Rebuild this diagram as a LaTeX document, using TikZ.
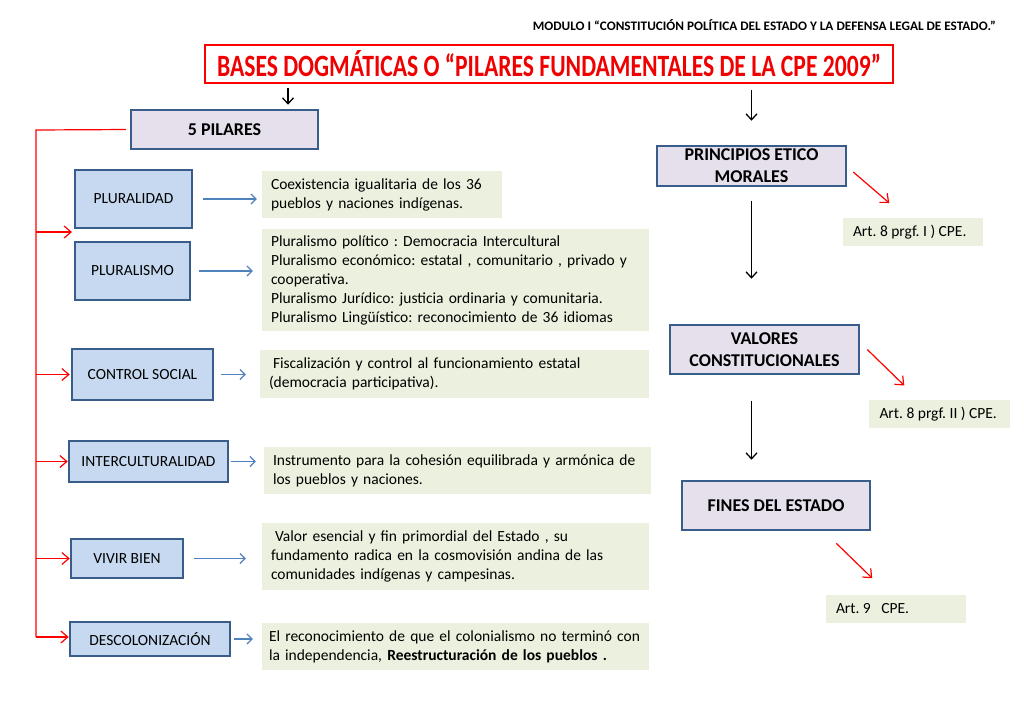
\documentclass[tikz,border=0pt]{standalone}
\usepackage{fontspec}
\setmainfont{Carlito}
\usetikzlibrary{positioning,arrows.meta,calc}
\definecolor{lavbox}{HTML}{E5E0EC}
\definecolor{bluebox}{HTML}{C6D9F1}
\definecolor{edgeblue}{HTML}{385D8A}
\definecolor{greenbox}{HTML}{EBF1DE}
\definecolor{arrowblue}{HTML}{4F81BD}
\definecolor{titlered}{HTML}{F00000}
\frenchspacing
\newcommand{\arttext}[1]{\makebox[120pt][l]{#1}}

\begin{document}
\begin{tikzpicture}[
  x=1pt, y=-1pt,
  font=\fontsize{15.5}{19}\selectfont,
  pilar/.style={draw=edgeblue, line width=2.5pt, fill=lavbox, align=center,
                font=\fontsize{18}{22}\selectfont\bfseries, inner sep=0pt},
  tipo/.style={draw=edgeblue, line width=2.5pt, fill=bluebox, align=center, inner sep=0pt},
  desc/.style={fill=greenbox, align=left, inner xsep=9pt, inner ysep=0pt},
  art/.style={fill=greenbox, inner sep=0pt, minimum height=28pt},
  blackarrow/.style={-{Straight Barb[length=6pt,width=11pt]}, line width=1.3pt},
  bluearrow/.style={-{Straight Barb[length=5pt,width=10pt]}, draw=arrowblue, line width=1.2pt},
  redarrow/.style={-{Straight Barb[length=7pt,width=12pt]}, draw=red, line width=1.2pt},
]
\useasboundingbox (0,0) rectangle (1024,709);

% Header and title
\node[anchor=east, inner sep=0pt] (header) at (996,25)
  {\resizebox{463pt}{\height}{\fontsize{13}{15}\selectfont\bfseries MODULO I “CONSTITUCIÓN POLÍTICA DEL ESTADO Y LA DEFENSA LEGAL DE ESTADO.”}};
\node[draw=red, line width=1.5pt, fill=white, minimum width=688pt, minimum height=38pt, inner sep=0pt] (title) at (549,64)
  {\resizebox{664pt}{\height}{\fontsize{31}{36}\selectfont\bfseries\color{titlered}BASES DOGMÁTICAS O “PILARES FUNDAMENTALES DE LA CPE 2009”}};

% Left column: pilares
\node[pilar, minimum width=187pt, minimum height=39pt] (p_cinco) at (224.5,129.5) {5 PILARES};
\node[tipo, minimum width=117pt, minimum height=58pt] (p_plur) at (133.5,199) {PLURALIDAD};
\node[tipo, minimum width=115pt, minimum height=58pt] (p_pismo) at (132.5,271) {PLURALISMO};
\node[tipo, minimum width=141pt, minimum height=51pt] (p_ctrl) at (142.5,374.5) {CONTROL SOCIAL};
\node[tipo, minimum width=159pt, minimum height=41pt] (p_inter) at (148.5,461.5) {INTERCULTURALIDAD};
\node[tipo, minimum width=112pt, minimum height=39pt] (p_vivir) at (127,558.5) {VIVIR BIEN};
\node[tipo, minimum width=160pt, minimum height=34pt] (p_desc) at (150,639) {DESCOLONIZACIÓN};

% Descriptions
\node[desc, text width=222pt, minimum height=47pt] (d_plur) at (382,194.5)
  {Coexistencia  igualitaria  de los 36\\pueblos y naciones indígenas.};
\node[desc, text width=369pt, minimum height=102pt] (d_pismo) at (455.5,280)
  {Pluralismo  político : Democracia Intercultural\\Pluralismo  económico: estatal , comunitario , privado y\\cooperativa.\\Pluralismo Jurídico:  justicia ordinaria y comunitaria.\\Pluralismo Lingüístico: reconocimiento de 36 idiomas};
\node[desc, text width=371pt, minimum height=48pt] (d_ctrl) at (454.5,374)
  {\hspace{4pt}Fiscalización y control al funcionamiento estatal\\(democracia participativa).};
\node[desc, text width=369pt, minimum height=47pt] (d_inter) at (457.5,470.5)
  {Instrumento para la cohesión equilibrada  y armónica  de\\los pueblos y naciones.};
\node[desc, text width=369pt, minimum height=67pt] (d_vivir) at (455.5,556.5)
  {\hspace{4pt}Valor esencial  y  fin primordial del Estado  , su\\fundamento radica  en la cosmovisión andina de las\\comunidades indígenas y campesinas.};
\node[desc, text width=373pt, inner xsep=7pt, minimum height=47pt] (d_desc) at (455.5,646.5)
  {El reconocimiento de que el colonialismo no terminó con\\la independencia, \textbf{Reestructuración de los pueblos .}};

% Right column
\node[pilar, minimum width=189pt, minimum height=40pt] (pem) at (751.5,166) {PRINCIPIOS ETICO\\MORALES};
\node[pilar, minimum width=189pt, minimum height=49pt] (valores) at (764.5,349.5) {VALORES\\CONSTITUCIONALES};
\node[pilar, minimum width=188pt, minimum height=49pt] (fines) at (776,505.5) {FINES DEL ESTADO};

\node[art, minimum width=140pt] (art_i) at (913,232) {\arttext{Art. 8 prgf. I ) CPE.}};
\node[art, minimum width=141pt] (art_ii) at (939.5,414) {\arttext{Art. 8 prgf. II ) CPE.}};
\node[art, minimum width=140pt] (art_ix) at (896,609) {\arttext{Art. 9 \ \ CPE.}};

% Flows
\coordinate (rail_top) at (36,130);
\coordinate (rail_bot) at (36,637);
\coordinate (gap_plur) at (72,232);
\draw[blackarrow, shorten <=5pt, shorten >=4pt] (288,83) coordinate (t_left) -- (t_left |- p_cinco.north);
\draw[blackarrow, shorten <=6pt, shorten >=24pt] (pem.north |- title.south) -- (pem.north);
\draw[blackarrow, shorten <=14pt, shorten >=45pt] (pem.south) -- (pem.south |- valores.north);
\draw[blackarrow, shorten <=26pt, shorten >=20pt] (pem.south |- valores.south) -- (pem.south |- fines.north);

\draw[red, line width=1.2pt, shorten <=4pt] (p_cinco.west) -- (rail_top) -- (rail_bot);
\draw[redarrow] (rail_top |- gap_plur) -- (gap_plur);
\draw[redarrow, shorten >=1pt] (rail_top |- p_ctrl) -- (p_ctrl.west);
\draw[redarrow] (rail_top |- p_inter) -- (p_inter.west);
\draw[redarrow] (rail_top |- p_vivir) -- (p_vivir.west);
\draw[redarrow] (rail_bot) -- (rail_bot -| p_desc.west);

\draw[bluearrow, shorten <=10pt, shorten >=5pt] (p_plur.east) -- (p_plur.east -| d_plur.west);
\draw[bluearrow, shorten <=8pt, shorten >=9pt] (p_pismo.east) -- (p_pismo.east -| d_pismo.west);
\draw[bluearrow, shorten <=7pt, shorten >=14pt] (p_ctrl.east) -- (p_ctrl.east -| d_ctrl.west);
\draw[bluearrow, shorten <=2pt, shorten >=8pt] (p_inter.east) -- (p_inter.east -| d_inter.west);
\draw[bluearrow, shorten <=10pt, shorten >=16pt] (p_vivir.east) -- (p_vivir.east -| d_vivir.west);
\draw[bluearrow, shorten <=3pt, shorten >=9pt] (p_desc.east) -- (p_desc.east -| d_desc.west);

\draw[redarrow] ($(pem.east)+(6,6)$) -- ++(36,31);
\draw[redarrow] ($(valores.east)+(7,0)$) -- ++(37,36);
\draw[redarrow] ($(fines.south east)+(-35,12)$) -- ++(36,35);
\end{tikzpicture}
\end{document}
